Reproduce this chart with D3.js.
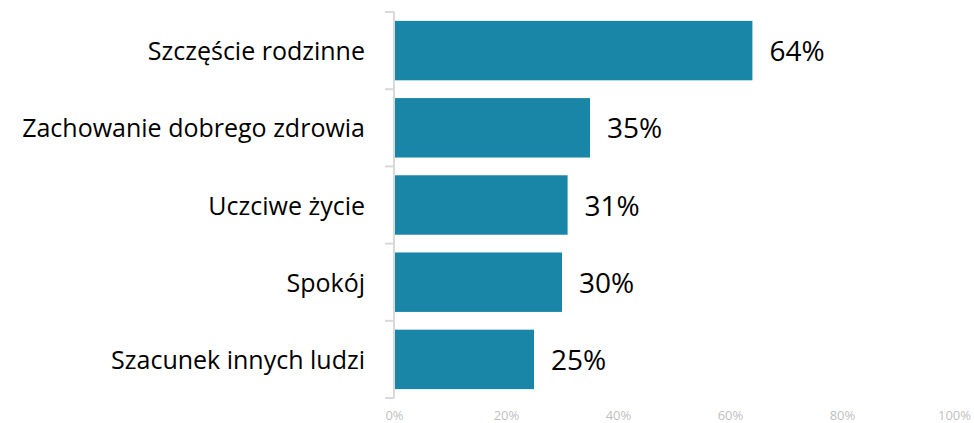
<!DOCTYPE html>
<html>
<head>
<meta charset="utf-8">
<script src="https://cdn.jsdelivr.net/npm/d3@7"></script>
<style>
  body { margin: 0; background: #fff; }
  svg { display: block; font-family: 'Open Sans', Lato, sans-serif; }
</style>
</head>
<body>
<div id="chart"></div>
<script>
const categories = ['Szczęście rodzinne', 'Zachowanie dobrego zdrowia', 'Uczciwe życie', 'Spokój', 'Szacunek innych ludzi']
const values = [64, 35, 31, 30, 25]
const tickValues = [0, 20, 40, 60, 80, 100]

const data = categories.map((c, i) => ({ name: c, value: values[i] }))

const W = 974, H = 423
const margin = { top: 12, right: 20, bottom: 25, left: 394 }
const width = 954 - margin.left
const height = 398 - margin.top

const x = d3.scaleLinear().domain([0, 100]).range([0, width])
const y = d3.scaleBand().domain(categories).range([0, height]).paddingInner(0.23).paddingOuter(0.115)

const svg = d3.select('#chart').append('svg')
    .attr('width', W)
    .attr('height', H)

const g = svg.append('g')
    .attr('transform', `translate(${margin.left},${margin.top})`)

// bars
g.selectAll('.bar')
    .data(data)
    .enter().append('rect')
    .attr('class', 'bar')
    .attr('x', 1)
    .attr('y', d => y(d.name))
    .attr('width', d => x(d.value) - 1)
    .attr('height', y.bandwidth())
    .attr('fill', '#1a86a7')

// value labels
g.selectAll('.val')
    .data(data)
    .enter().append('text')
    .attr('class', 'val')
    .attr('x', d => x(d.value) + 17)
    .attr('y', d => y(d.name) + y.bandwidth() / 2)
    .attr('dy', '0.38em')
    .style('font-size', '28px')
    .style('fill', '#000')
    .text(d => d.value + '%')

// y axis line with boundary ticks
const bounds = d3.range(categories.length + 1).map(i => i * height / categories.length)
g.append('line')
    .attr('x1', 0).attr('x2', 0)
    .attr('y1', 0).attr('y2', height)
    .attr('stroke', '#d9d9d9')
    .attr('stroke-width', 2)
g.selectAll('.btick')
    .data(bounds)
    .enter().append('line')
    .attr('class', 'btick')
    .attr('x1', -9).attr('x2', 0)
    .attr('y1', d => d).attr('y2', d => d)
    .attr('stroke', '#d9d9d9')
    .attr('stroke-width', 2)

// category labels
g.selectAll('.cat')
    .data(categories)
    .enter().append('text')
    .attr('class', 'cat')
    .attr('x', -29)
    .attr('y', d => y(d) + y.bandwidth() / 2)
    .attr('dy', '0.38em')
    .attr('text-anchor', 'end')
    .style('font-size', '25px')
    .style('fill', '#000')
    .text(d => d)

// x axis labels
const xAxis = d3.axisBottom(x)
    .tickValues(tickValues)
    .tickFormat(d => d + '%')
    .tickSize(0)
    .tickPadding(13)
const xa = g.append('g')
    .attr('transform', `translate(0,${height})`)
    .call(xAxis)
xa.select('.domain').remove()
xa.selectAll('text')
    .style('font-size', '13px')
    .style('font-family', "'Open Sans', Lato, sans-serif")
    .attr('fill', '#bfbfbf')
</script>
</body>
</html>
